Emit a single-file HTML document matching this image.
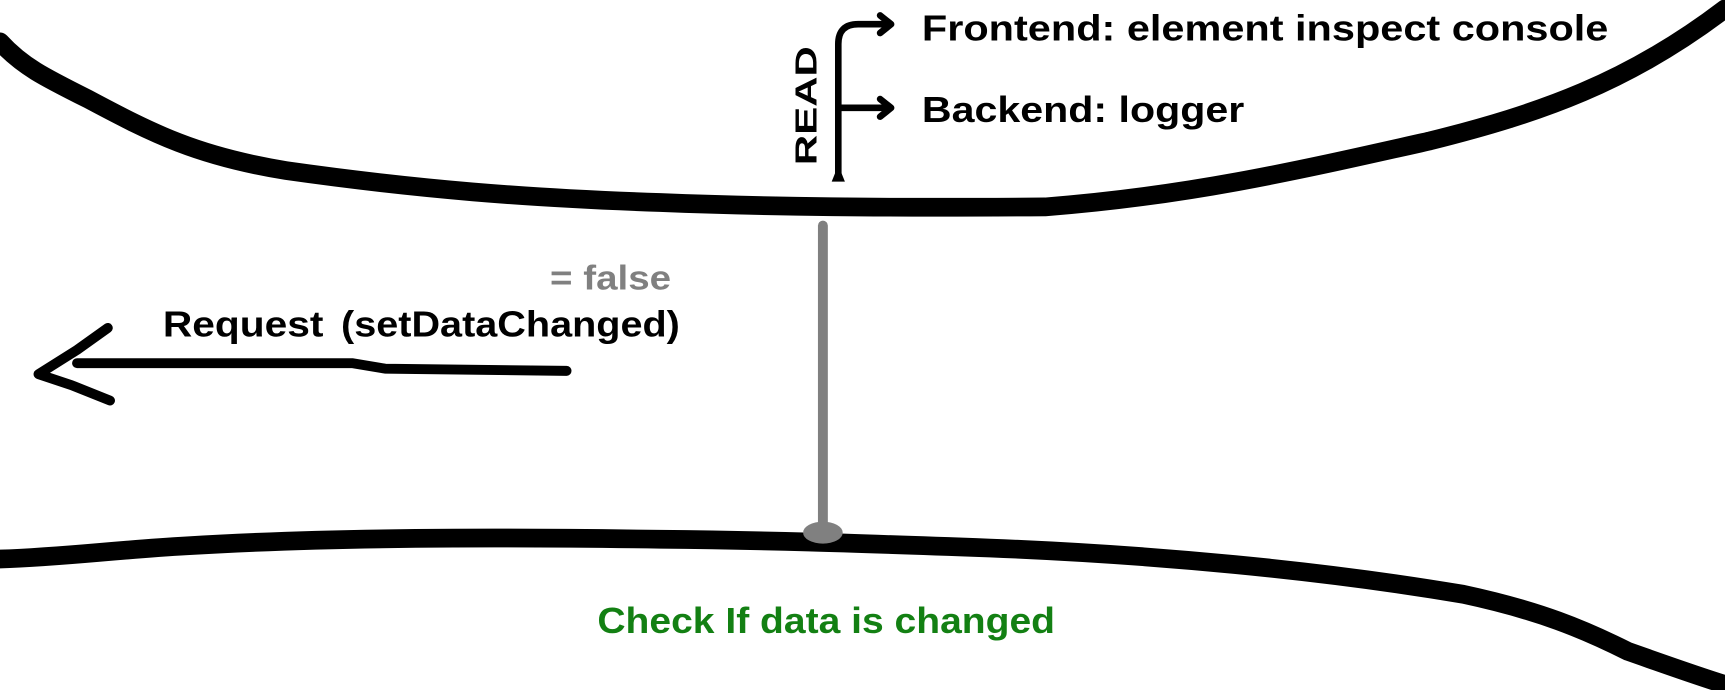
<!DOCTYPE html>
<html><head><style>html,body{margin:0;padding:0;background:#fff}svg{display:block}</style></head>
<body>
<svg width="1725" height="690" viewBox="0 0 1568 627" preserveAspectRatio="none" xmlns="http://www.w3.org/2000/svg">
<g fill="none" stroke="#000" stroke-linecap="round" stroke-linejoin="round">
<path d="M0,38 C20,60 40,70 80,90 C140,122 180,142 260,155 C380,172 480,180 600,184 C700,188 800,189 950,188 C1080,178 1180,155 1300,128 C1400,103 1480,75 1568,8" stroke-width="17"/>
<path d="M0,508 C60,506 100,500 170,496 C300,488 450,488 600,490 C700,491 760,493 900,498 C1050,504 1200,518 1330,540 C1400,555 1440,572 1480,592 C1520,606 1545,615 1568,622" stroke-width="17"/>
<path d="M762,160 L762,40 Q762,22 780,22 L808,22" stroke-width="6"/>
<path d="M800,14 L810,22 L800,30" stroke-width="6"/>
<path d="M762,98 L808,98" stroke-width="6"/>
<path d="M800,90 L810,98 L800,106" stroke-width="6"/>
<path d="M70,330 L320,330 L350,335 L515,337" stroke-width="9"/>
<path d="M98,298 L70,318 L35,340 L65,350 L100,364" stroke-width="9"/>
</g>
<path d="M756,165 L768,165 L764,155 L760,155 Z" fill="#000"/>
<line x1="748" y1="205" x2="748" y2="480" stroke="#808080" stroke-width="9" stroke-linecap="round"/>
<ellipse cx="748" cy="484" rx="18" ry="10" fill="#808080"/>
<g font-family="'Liberation Sans',sans-serif" font-weight="bold">
<text x="742" y="150" font-size="28" transform="rotate(-90 742 150)" textLength="108" lengthAdjust="spacingAndGlyphs">READ</text>
<text x="838" y="37" font-size="33" textLength="624" lengthAdjust="spacingAndGlyphs">Frontend: element inspect console</text>
<text x="838" y="111" font-size="33" textLength="293" lengthAdjust="spacingAndGlyphs">Backend: logger</text>
<text x="500" y="263" font-size="31" fill="#808080" textLength="110" lengthAdjust="spacingAndGlyphs">= false</text>
<text x="148" y="306" font-size="33" textLength="146" lengthAdjust="spacingAndGlyphs">Request</text>
<text x="310" y="306" font-size="33" textLength="308" lengthAdjust="spacingAndGlyphs">(setDataChanged)</text>
<text x="543" y="575" font-size="33" fill="#138013" textLength="416" lengthAdjust="spacingAndGlyphs">Check If data is changed</text>
</g>
</svg>
</body></html>
